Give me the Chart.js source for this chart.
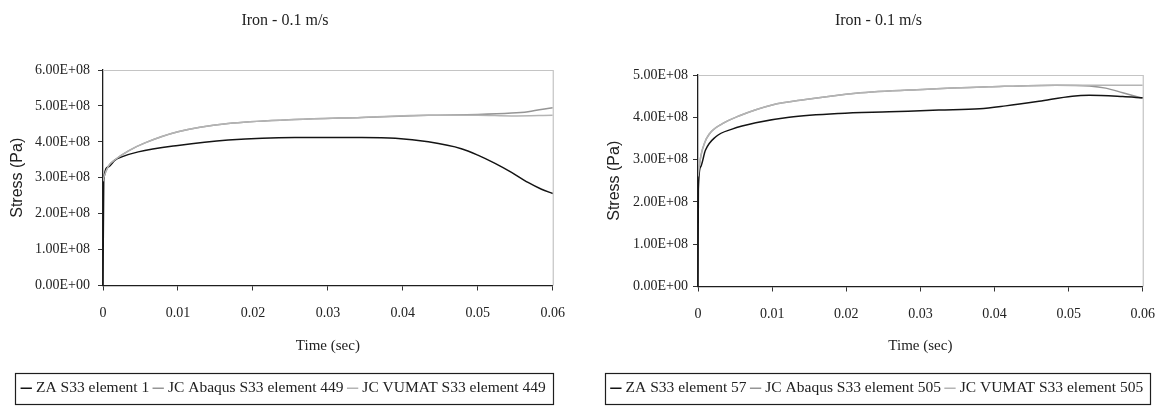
<!DOCTYPE html>
<html>
<head>
<meta charset="utf-8">
<script src="https://cdn.jsdelivr.net/npm/chart.js@4.4.1/dist/chart.umd.min.js"></script>
<style>
  html, body { margin: 0; padding: 0; background: #fff; }
  body { width: 1162px; height: 406px; position: relative; overflow: hidden; }
  canvas { position: absolute; top: 0; }
  #left { left: 0; }
  #right { left: 585px; }
</style>
</head>
<body>
<canvas id="left" width="579" height="406"></canvas>
<canvas id="right" width="584" height="406"></canvas>
<script>
// ---- chart text ----
const chartTitle = 'Iron - 0.1 m/s';
const xTitle = 'Time (sec)';
const yTitle = 'Stress (Pa)';

// ---- axis ticks ----
const timeTicks = [0, 0.01, 0.02, 0.03, 0.04, 0.05, 0.06];
const leftStressTicks = [0, 1e8, 2e8, 3e8, 4e8, 5e8, 6e8];
const rightStressTicks = [0, 1e8, 2e8, 3e8, 4e8, 5e8];

// ---- left panel series ----
const leftNames = ['ZA S33 element 1', 'JC Abaqus S33 element 449', 'JC VUMAT S33 element 449'];
const leftZaTime = [0, 0.0001, 0.0007, 0.0016, 0.0025, 0.0047, 0.01, 0.0167, 0.0256, 0.0345, 0.039, 0.0434, 0.0478, 0.05, 0.0523, 0.0545, 0.0567, 0.0585, 0.06];
const leftZaStress = [0, 2.95e8, 3.3e8, 3.49e8, 3.58e8, 3.72e8, 3.9e8, 4.05e8, 4.12e8, 4.12e8, 4.1e8, 4.0e8, 3.81e8, 3.63e8, 3.4e8, 3.15e8, 2.87e8, 2.68e8, 2.56e8];
const leftAbaqusTime = [0, 0.0001, 0.0007, 0.0016, 0.0034, 0.0056, 0.01, 0.0167, 0.0256, 0.0345, 0.0434, 0.05, 0.0545, 0.0567, 0.06];
const leftAbaqusStress = [2.9e8, 3.0e8, 3.32e8, 3.5e8, 3.75e8, 3.97e8, 4.28e8, 4.51e8, 4.62e8, 4.68e8, 4.74e8, 4.76e8, 4.8e8, 4.84e8, 4.95e8];
const leftVumatTime = [0, 0.0001, 0.0007, 0.0016, 0.0034, 0.0056, 0.01, 0.0167, 0.0256, 0.0345, 0.0434, 0.05, 0.0545, 0.06];
const leftVumatStress = [2.9e8, 3.0e8, 3.32e8, 3.5e8, 3.75e8, 3.97e8, 4.28e8, 4.51e8, 4.62e8, 4.68e8, 4.74e8, 4.74e8, 4.72e8, 4.74e8];

// ---- right panel series ----
const rightNames = ['ZA S33 element 57', 'JC Abaqus S33 element 505', 'JC VUMAT S33 element 505'];
const rightZaTime = [0, 0.00005, 0.00036, 0.001, 0.0024, 0.0046, 0.0078, 0.0123, 0.019, 0.0258, 0.0325, 0.038, 0.0415, 0.046, 0.0505, 0.0528, 0.0573, 0.06];
const rightZaStress = [0, 2.3e8, 2.83e8, 3.22e8, 3.54e8, 3.72e8, 3.87e8, 4.0e8, 4.09e8, 4.13e8, 4.17e8, 4.2e8, 4.27e8, 4.38e8, 4.5e8, 4.52e8, 4.49e8, 4.46e8];
const rightAbaqusTime = [0, 0.0004, 0.0009, 0.0015, 0.0033, 0.0055, 0.01, 0.0145, 0.0213, 0.0303, 0.0393, 0.0483, 0.0528, 0.055, 0.0573, 0.06];
const rightAbaqusStress = [2.6e8, 3.1e8, 3.4e8, 3.6e8, 3.85e8, 4.03e8, 4.29e8, 4.42e8, 4.57e8, 4.66e8, 4.72e8, 4.76e8, 4.74e8, 4.69e8, 4.58e8, 4.45e8];
const rightVumatTime = [0, 0.0004, 0.0009, 0.0015, 0.0033, 0.0055, 0.01, 0.0145, 0.0213, 0.0303, 0.0393, 0.0483, 0.0528, 0.06];
const rightVumatStress = [2.6e8, 3.1e8, 3.4e8, 3.6e8, 3.85e8, 4.03e8, 4.29e8, 4.42e8, 4.57e8, 4.66e8, 4.72e8, 4.76e8, 4.76e8, 4.76e8];

// ---- styling ----
const seriesColors = ['#141414', '#959595', '#b4b4b4'];
const serif = 'Liberation Serif';
const inkColor = '#222';

function pairs(xs, ys) {
  return xs.map((x, i) => ({ x: x, y: ys[i] }));
}

function sciLabel(v) {
  if (v === 0) return '0.00E+00';
  const e = Math.floor(Math.log10(Math.abs(v)) + 1e-9);
  const m = v / Math.pow(10, e);
  return m.toFixed(2) + 'E+' + String(e).padStart(2, '0');
}

// light grey frame on the top and right of the plot area
const plotFrame = {
  id: 'plotFrame',
  beforeDatasetsDraw(chart) {
    const a = chart.chartArea, ctx = chart.ctx;
    ctx.save();
    ctx.strokeStyle = '#c4c4c4';
    ctx.lineWidth = 1.2;
    ctx.beginPath();
    ctx.moveTo(a.left, a.top + 0.5);
    ctx.lineTo(a.right + 0.5, a.top + 0.5);
    ctx.lineTo(a.right + 0.5, a.bottom);
    ctx.stroke();
    ctx.restore();
  }
};

// rectangle around the legend row
const legendFrame = {
  id: 'legendFrame',
  afterDraw(chart) {
    const hb = chart.legend && chart.legend.legendHitBoxes;
    if (!hb || !hb.length) return;
    const last = hb[hb.length - 1];
    const cy = hb[0].top + hb[0].height / 2;
    const l = Math.round(hb[0].left - 9) + 0.5;
    const r = Math.round(last.left + last.width + 7) + 0.5;
    const t = Math.round(cy - 15.5) + 0.5;
    const b = Math.round(cy + 16) + 0.5;
    const ctx = chart.ctx;
    ctx.save();
    ctx.strokeStyle = '#1e1e1e';
    ctx.lineWidth = 1.2;
    ctx.strokeRect(l, t, r - l, b - t);
    ctx.restore();
  }
};

function buildChart(canvasId, cfg) {
  const datasets = cfg.series.map((s, i) => ({
    label: cfg.names[i],
    data: pairs(s[0], s[1]),
    borderColor: seriesColors[i],
    backgroundColor: seriesColors[i],
    borderWidth: 1.5,
    pointRadius: 0,
    pointHoverRadius: 0,
    fill: false,
    cubicInterpolationMode: 'monotone'
  }));
  // draw the ZA curve last so it sits on top
  const order = [1, 2, 0];
  datasets.forEach((d, i) => { d.order = order[i]; });

  return new Chart(document.getElementById(canvasId), {
    type: 'line',
    data: { datasets: datasets },
    options: {
      responsive: false,
      animation: false,
      events: [],
      layout: { padding: { left: cfg.padLeft, right: 17, top: 0, bottom: 0 } },
      plugins: {
        title: {
          display: true,
          text: chartTitle,
          color: inkColor,
          font: { family: serif, size: 16, weight: 'normal' },
          padding: { top: 11.5, bottom: cfg.titleGap }
        },
        legend: {
          position: 'bottom',
          labels: {
            usePointStyle: true,
            pointStyle: 'line',
            boxWidth: 4,
            boxHeight: 8,
            padding: 7,
            color: inkColor,
            font: { family: serif, size: 15.5 },
            sort: (a, b) => a.datasetIndex - b.datasetIndex
          }
        },
        tooltip: { enabled: false }
      },
      scales: {
        x: {
          type: 'linear',
          min: 0,
          max: 0.06,
          afterBuildTicks: (s) => { s.ticks = timeTicks.map(v => ({ value: v })); },
          afterFit: (s) => { s.height = cfg.xHeight; },
          ticks: {
            color: inkColor,
            padding: 14,
            maxRotation: 0,
            autoSkip: false,
            font: { family: serif, size: 14 },
            callback: (v) => String(parseFloat(v.toFixed(2)))
          },
          grid: { drawOnChartArea: false, drawTicks: true, tickLength: 5, color: '#333' },
          border: { display: true, color: '#1e1e1e', width: 1.3 },
          title: {
            display: true,
            text: xTitle,
            color: inkColor,
            font: { family: serif, size: 15 },
            padding: { top: 0, bottom: 18 }
          }
        },
        y: {
          type: 'linear',
          min: 0,
          max: cfg.yMax,
          afterBuildTicks: (s) => { s.ticks = cfg.yTicks.map(v => ({ value: v })); },
          afterFit: (s) => { s.width = cfg.yWidth; },
          ticks: {
            color: inkColor,
            padding: cfg.yTickPad,
            font: { family: serif, size: 14 },
            callback: (v) => sciLabel(v)
          },
          grid: { drawOnChartArea: false, drawTicks: true, tickLength: 5, color: '#333' },
          border: { display: true, color: '#1e1e1e', width: 1.3 },
          title: {
            display: true,
            text: yTitle,
            color: inkColor,
            font: { family: 'Liberation Sans', size: 16 },
            padding: { top: 0, bottom: 0 }
          }
        }
      }
    },
    plugins: [plotFrame, legendFrame]
  });
}

buildChart('left', {
  names: leftNames,
  series: [[leftZaTime, leftZaStress], [leftAbaqusTime, leftAbaqusStress], [leftVumatTime, leftVumatStress]],
  yTicks: leftStressTicks,
  yMax: 6e8,
  padLeft: 8,
  yWidth: 95,
  yTickPad: 8,
  titleGap: 39.3,
  xHeight: 88
});

buildChart('right', {
  names: rightNames,
  series: [[rightZaTime, rightZaStress], [rightAbaqusTime, rightAbaqusStress], [rightVumatTime, rightVumatStress]],
  yTicks: rightStressTicks,
  yMax: 5e8,
  padLeft: 20,
  yWidth: 93,
  yTickPad: 5,
  titleGap: 44.3,
  xHeight: 87
});
</script>
</body>
</html>
